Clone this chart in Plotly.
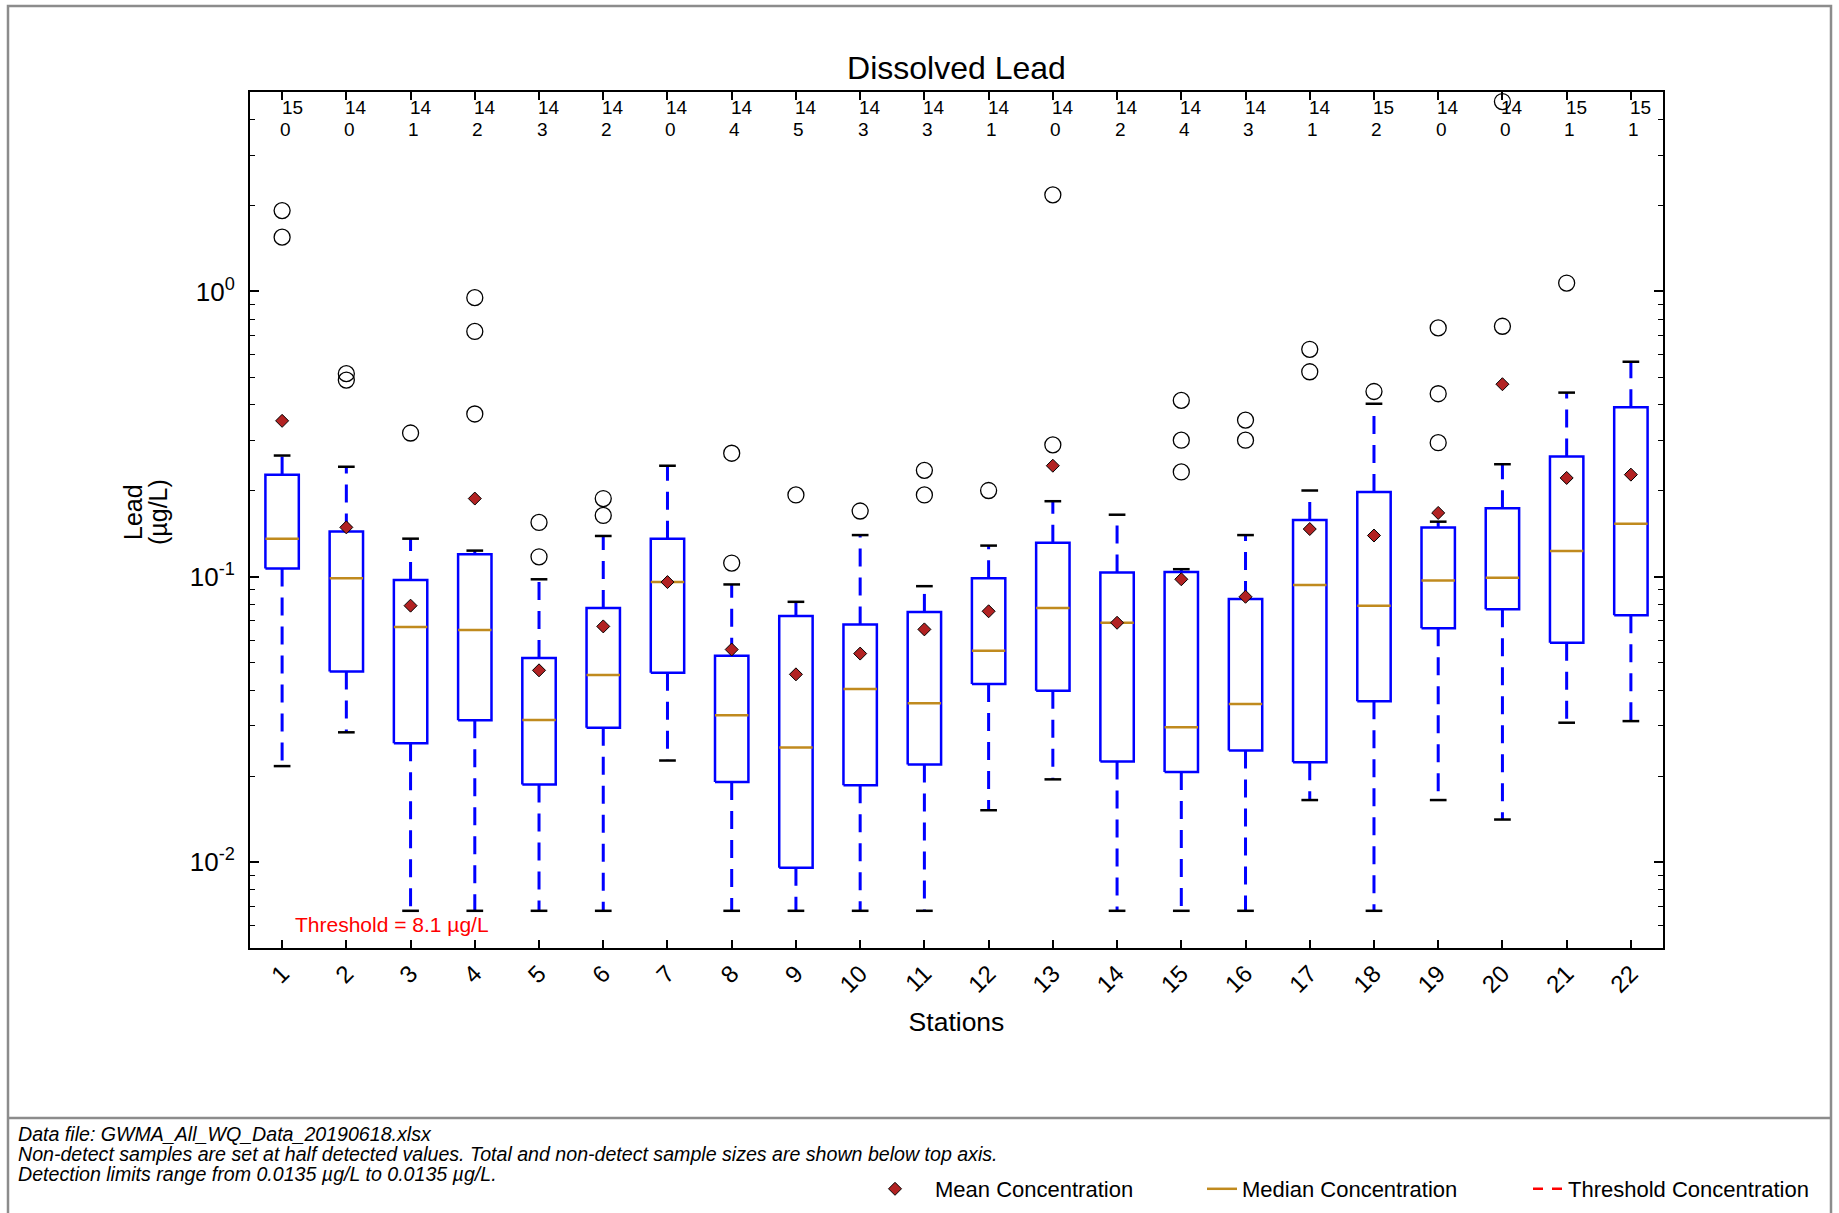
import plotly.graph_objects as go

# ---- Dissolved lead summary statistics per monitoring station (µg/L) ----
stations = list(range(1, 23))
station_labels = [str(s) for s in stations]
n_total = [15, 14, 14, 14, 14, 14, 14, 14, 14, 14, 14, 14, 14, 14, 14, 14, 14, 15, 14, 14, 15, 15]
n_nondetect = [0, 0, 1, 2, 3, 2, 0, 4, 5, 3, 3, 1, 0, 2, 4, 3, 1, 2, 0, 0, 1, 1]

q1 = [0.107, 0.0466, 0.0261, 0.0314, 0.0187, 0.0296, 0.0461, 0.0191, 0.00955, 0.0186, 0.0220,
      0.0421, 0.0399, 0.0225, 0.0207, 0.0246, 0.0224, 0.0366, 0.066, 0.077, 0.0587, 0.0733]
median = [0.136, 0.0989, 0.0667, 0.0651, 0.0315, 0.0453, 0.0958, 0.0327, 0.0252, 0.0404, 0.0360,
          0.0551, 0.0778, 0.069, 0.0297, 0.0358, 0.0936, 0.0792, 0.097, 0.0993, 0.123, 0.1535]
q3 = [0.228, 0.144, 0.0975, 0.120, 0.0519, 0.0778, 0.136, 0.0529, 0.0729, 0.0681, 0.0753,
      0.0989, 0.1316, 0.1035, 0.104, 0.0836, 0.158, 0.198, 0.1487, 0.174, 0.264, 0.393]
whisker_low = [0.0217, 0.0285, 0.00675, 0.00675, 0.00675, 0.00675, 0.0227, 0.00675, 0.00675, 0.00675, 0.00675,
               0.0152, 0.0195, 0.00675, 0.00675, 0.00675, 0.0165, 0.00675, 0.0165, 0.0141, 0.0308, 0.0312]
whisker_high = [0.266, 0.243, 0.136, 0.1235, 0.098, 0.139, 0.245, 0.094, 0.0817, 0.140, 0.0927,
                0.1286, 0.184, 0.165, 0.1063, 0.140, 0.2006, 0.404, 0.156, 0.248, 0.442, 0.567]
means = [0.352, 0.149, 0.0792, 0.188, 0.047, 0.067, 0.0958, 0.0556, 0.0455, 0.0538, 0.0654,
         0.0757, 0.245, 0.069, 0.098, 0.0851, 0.147, 0.1395, 0.1674, 0.473, 0.222, 0.228]
outliers = [[1.92, 1.55], [0.515, 0.489], [0.319], [0.951, 0.724, 0.372], [0.155, 0.1175],
            [0.188, 0.164], [], [0.271, 0.1117], [0.1935], [0.170], [0.236, 0.1935], [0.2006],
            [2.18, 0.290], [], [0.415, 0.301, 0.233], [0.354, 0.301], [0.627, 0.523], [0.446],
            [0.745, 0.438, 0.295], [4.63, 0.755], [1.07], []]
threshold = 8.1

ytick_vals = [0.01, 0.1, 1]
ytick_text = ["10<sup>-2</sup>", "10<sup>-1</sup>", "10<sup>0</sup>"]
y_min, y_max = 0.005, 5.0
ytick_minor = [k * 10.0 ** e for e in range(-3, 1) for k in range(2, 10)
               if y_min <= k * 10.0 ** e <= y_max]

# ---- figure geometry (pixels) ----
W, H = 1839, 1213
ML, MR, MT, MB = 250, 176, 92, 265
PW, PH = W - ML - MR, H - MT - MB


def px_x(px):
    return (px - ML) / PW


def px_y(py):
    return (H - MB - py) / PH


FONT = "Liberation Sans, Arial, sans-serif"
BOX_HALF = 0.26
CAP_HALF = 0.13

fig = go.Figure()

# whiskers (dashed blue, from box edge to cap)
wx, wy = [], []
for s, lo, a, b, hi in zip(stations, whisker_low, q1, q3, whisker_high):
    wx += [s, s, None, s, s, None]
    wy += [b, hi, None, a, lo, None]
fig.add_trace(go.Scatter(x=wx, y=wy, mode="lines", showlegend=False, hoverinfo="skip",
                         line=dict(color="#0000ff", width=3, dash="18px,11px")))

# whisker caps
cx, cy = [], []
for s, lo, hi in zip(stations, whisker_low, whisker_high):
    cx += [s - CAP_HALF, s + CAP_HALF, None, s - CAP_HALF, s + CAP_HALF, None]
    cy += [hi, hi, None, lo, lo, None]
fig.add_trace(go.Scatter(x=cx, y=cy, mode="lines", showlegend=False, hoverinfo="skip",
                         line=dict(color="black", width=2.5)))

# interquartile boxes
bx, by = [], []
for s, a, b in zip(stations, q1, q3):
    bx += [s - BOX_HALF, s + BOX_HALF, s + BOX_HALF, s - BOX_HALF, s - BOX_HALF, None]
    by += [a, a, b, b, a, None]
fig.add_trace(go.Scatter(x=bx, y=by, mode="lines", showlegend=False, hoverinfo="skip",
                         line=dict(color="#0000ff", width=2.5)))

# medians
mx, my = [], []
for s, m in zip(stations, median):
    mx += [s - BOX_HALF, s + BOX_HALF, None]
    my += [m, m, None]
fig.add_trace(go.Scatter(x=mx, y=my, mode="lines", name="Median Concentration", legend="legend2",
                         line=dict(color="#c08a1e", width=2.5)))

# outliers
ox, oy = [], []
for s, vals in zip(stations, outliers):
    for v in vals:
        ox.append(s)
        oy.append(v)
fig.add_trace(go.Scatter(x=ox, y=oy, mode="markers", showlegend=False,
                         marker=dict(symbol="circle-open", size=16, color="black", line=dict(width=1.3))))

# means
fig.add_trace(go.Scatter(x=stations, y=means, mode="markers", name="Mean Concentration", legend="legend",
                         marker=dict(symbol="diamond", size=10, color="#b22222",
                                     line=dict(color="black", width=1))))

# threshold concentration (above the displayed range)
fig.add_trace(go.Scatter(x=[0.5, 22.5], y=[threshold, threshold], mode="lines",
                         name="Threshold Concentration", legend="legend3",
                         line=dict(color="#ff0000", width=2.5, dash="10px,9px")))

annotations = []
# sample sizes below the top axis
for s, n, nd in zip(stations, n_total, n_nondetect):
    annotations.append(dict(x=s, y=px_y(107), xref="x", yref="paper", yanchor="middle", text=str(n),
                            showarrow=False, xshift=10, font=dict(family=FONT, size=19, color="black")))
    annotations.append(dict(x=s, y=px_y(129), xref="x", yref="paper", yanchor="middle", text=str(nd),
                            showarrow=False, xshift=3, font=dict(family=FONT, size=19, color="black")))

annotations.append(dict(x=px_x(293), y=px_y(924), xref="paper", yref="paper", xanchor="left",
                        yanchor="middle", text=f"Threshold = {threshold} µg/L", showarrow=False,
                        font=dict(family=FONT, size=21, color="#ff0000")))

# y-axis title, two stacked rotated lines
for txt, xc in (("Lead", 133), ("(µg/L)", 158)):
    annotations.append(dict(x=px_x(xc), y=px_y(512), xref="paper", yref="paper", xanchor="center",
                            yanchor="middle", text=txt, textangle=-90, showarrow=False,
                            font=dict(family=FONT, size=25, color="black")))

footer = [
    "Data file: GWMA_All_WQ_Data_20190618.xlsx",
    "Non-detect samples are set at half detected values. Total and non-detect sample sizes are shown below top axis.",
    "Detection limits range from 0.0135 µg/L to 0.0135 µg/L.",
]
for i, line in enumerate(footer):
    annotations.append(dict(x=px_x(16), y=px_y(1134 + 20 * i), xref="paper", yref="paper",
                            xanchor="left", yanchor="middle", text=f"<i>{line}</i>", showarrow=False,
                            font=dict(family=FONT, size=19.6, color="black")))

shapes = [
    dict(type="rect", xref="paper", yref="paper", x0=px_x(8), x1=px_x(1831), y0=px_y(1240), y1=px_y(6),
         line=dict(color="#8c8c8c", width=2.5), layer="below"),
    dict(type="line", xref="paper", yref="paper", x0=px_x(8), x1=px_x(1831), y0=px_y(1118), y1=px_y(1118),
         line=dict(color="#8c8c8c", width=2.5)),
]

legend_common = dict(orientation="h", yanchor="middle", xanchor="left", bgcolor="rgba(0,0,0,0)",
                     font=dict(family=FONT, size=22, color="black"))

fig.update_layout(
    width=W, height=H,
    margin=dict(l=ML, r=MR, t=MT, b=MB, autoexpand=False),
    paper_bgcolor="white", plot_bgcolor="white",
    title=dict(text="Dissolved Lead", x=0.5, xref="paper", xanchor="center", y=1 - 68 / H, yanchor="middle",
               font=dict(family=FONT, size=32, color="black")),
    font=dict(family=FONT, color="black"),
    xaxis=dict(range=[0.5, 22.5], tickmode="array", tickvals=stations, ticktext=station_labels,
               tickangle=-45, ticks="inside", ticklen=8, tickwidth=1.5, tickcolor="black",
               showline=True, linecolor="black", linewidth=2, mirror="ticks", showgrid=False,
               zeroline=False, tickfont=dict(family=FONT, size=24, color="black"),
               title=dict(text="Stations", standoff=16, font=dict(family=FONT, size=26.5, color="black"))),
    yaxis=dict(type="log", range=[-2.30103, 0.69897], tickmode="array", tickvals=ytick_vals,
               ticktext=ytick_text, ticks="inside", ticklen=9, tickwidth=1.5, tickcolor="black",
               ticklabelstandoff=8,
               minor=dict(tickmode="array", tickvals=ytick_minor, ticks="inside", ticklen=5,
                          tickwidth=1.2, tickcolor="black", showgrid=False),
               showline=True, linecolor="black", linewidth=2, mirror="ticks", showgrid=False,
               zeroline=False, tickfont=dict(family=FONT, size=26, color="black")),
    legend=dict(x=px_x(855), y=px_y(1189), itemwidth=70, **legend_common),
    legend2=dict(x=px_x(1202), y=px_y(1189), **legend_common),
    legend3=dict(x=px_x(1528), y=px_y(1189), **legend_common),
    annotations=annotations,
    shapes=shapes,
)

fig.write_html("out.html")
